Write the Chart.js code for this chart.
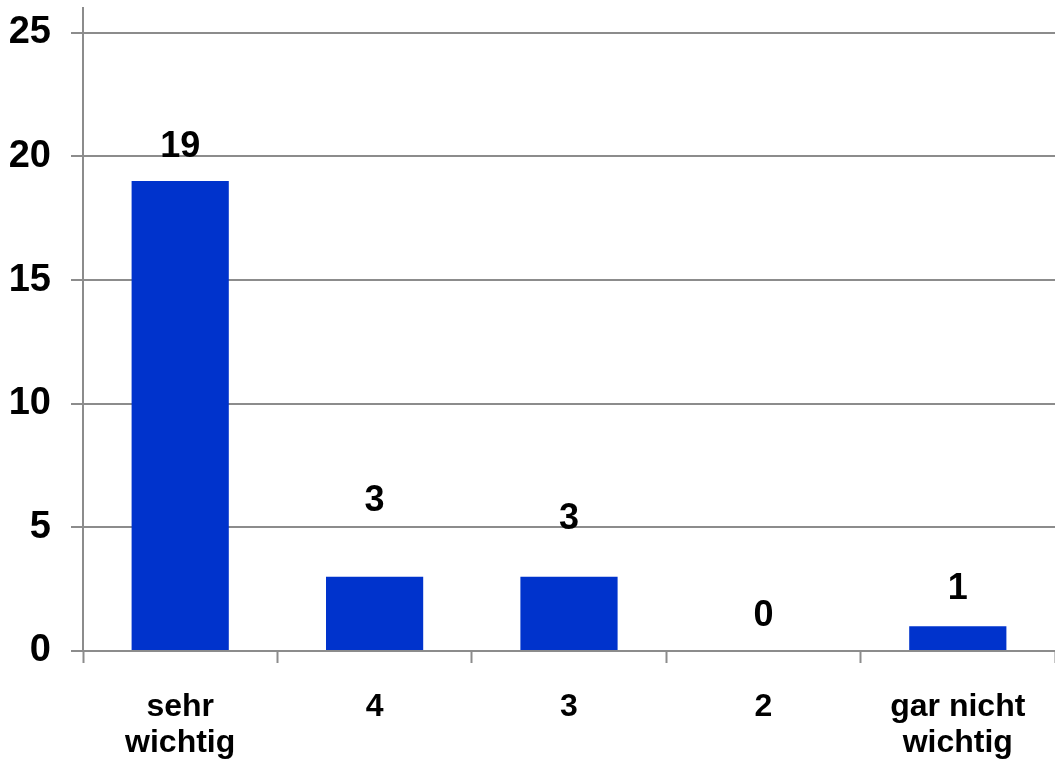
<!DOCTYPE html>
<html>
<head>
<meta charset="utf-8">
<title>Wichtigkeit</title>
<script src="https://cdn.jsdelivr.net/npm/chart.js@4.4.1/dist/chart.umd.min.js"></script>
<style>
    html, body { margin: 0; padding: 0; background: #ffffff; }
    #wrap { position: relative; width: 1055px; height: 769px; }
</style>
</head>
<body>
<div id="wrap"><canvas id="ratingChart"></canvas></div>
<script>
// answer categories (multi-line labels) and counts
const categories = [['sehr', 'wichtig'], '4', '3', '2', ['gar nicht', 'wichtig']];
const counts = [19, 3, 3, 0, 1];
const yTickValues = [0, 5, 10, 15, 20, 25];

const axisGray = '#8c8c8c';
const barBlue = '#0033cc';
const fontFamily = '"Liberation Sans", Arial, sans-serif';

// writes the count above each bar; lift is the distance in px above the bar top
const valueLabels = {
    id: 'valueLabels',
    afterDatasetsDraw(chart, args, opts) {
        const ctx = chart.ctx;
        const meta = chart.getDatasetMeta(0);
        ctx.save();
        ctx.font = 'bold ' + opts.size + 'px ' + fontFamily;
        ctx.fillStyle = '#000000';
        ctx.textAlign = 'center';
        ctx.textBaseline = 'middle';
        meta.data.forEach((bar, i) => {
            const lift = opts.lift[i] !== undefined ? opts.lift[i] : 34;
            ctx.fillText(String(counts[i]), bar.x, bar.y - lift);
        });
        ctx.restore();
    }
};

const ctx = document.getElementById('ratingChart').getContext('2d');
const ratingChart = new Chart(ctx, {
    type: 'bar',
    data: {
        labels: categories,
        datasets: [{
            data: counts,
            backgroundColor: barBlue,
            borderWidth: 0,
            barPercentage: 0.5,
            categoryPercentage: 1.0
        }]
    },
    options: {
        responsive: true,
        maintainAspectRatio: false,
        animation: false,
        layout: { padding: { top: 8, left: 0, right: 0, bottom: 0 } },
        plugins: {
            legend: { display: false },
            tooltip: { enabled: false },
            valueLabels: { size: 36, lift: [34, 76, 58, 35, 37] }
        },
        scales: {
            x: {
                grid: {
                    drawOnChartArea: false,
                    drawTicks: true,
                    tickLength: 12,
                    tickWidth: 2,
                    tickColor: axisGray
                },
                border: { color: axisGray, width: 2 },
                ticks: {
                    color: '#000000',
                    padding: 27,
                    maxRotation: 0,
                    autoSkip: false,
                    font: { family: fontFamily, size: 32, weight: 'bold', lineHeight: 1.1 }
                },
                afterFit(scale) {
                    scale.height = 118;
                    scale.paddingLeft = 0;
                    scale.paddingRight = 0;
                }
            },
            y: {
                min: 0,
                max: 26,
                afterBuildTicks(scale) {
                    scale.ticks = yTickValues.map(v => ({ value: v }));
                },
                grid: {
                    color: axisGray,
                    lineWidth: 2,
                    drawTicks: true,
                    tickLength: 12
                },
                border: { color: axisGray, width: 2 },
                ticks: {
                    color: '#000000',
                    padding: 20,
                    font: { family: fontFamily, size: 38, weight: 'bold' }
                },
                afterFit(scale) {
                    scale.width = 83;
                    scale.paddingTop = 0;
                    scale.paddingBottom = 0;
                }
            }
        }
    },
    plugins: [valueLabels]
});
</script>
</body>
</html>
